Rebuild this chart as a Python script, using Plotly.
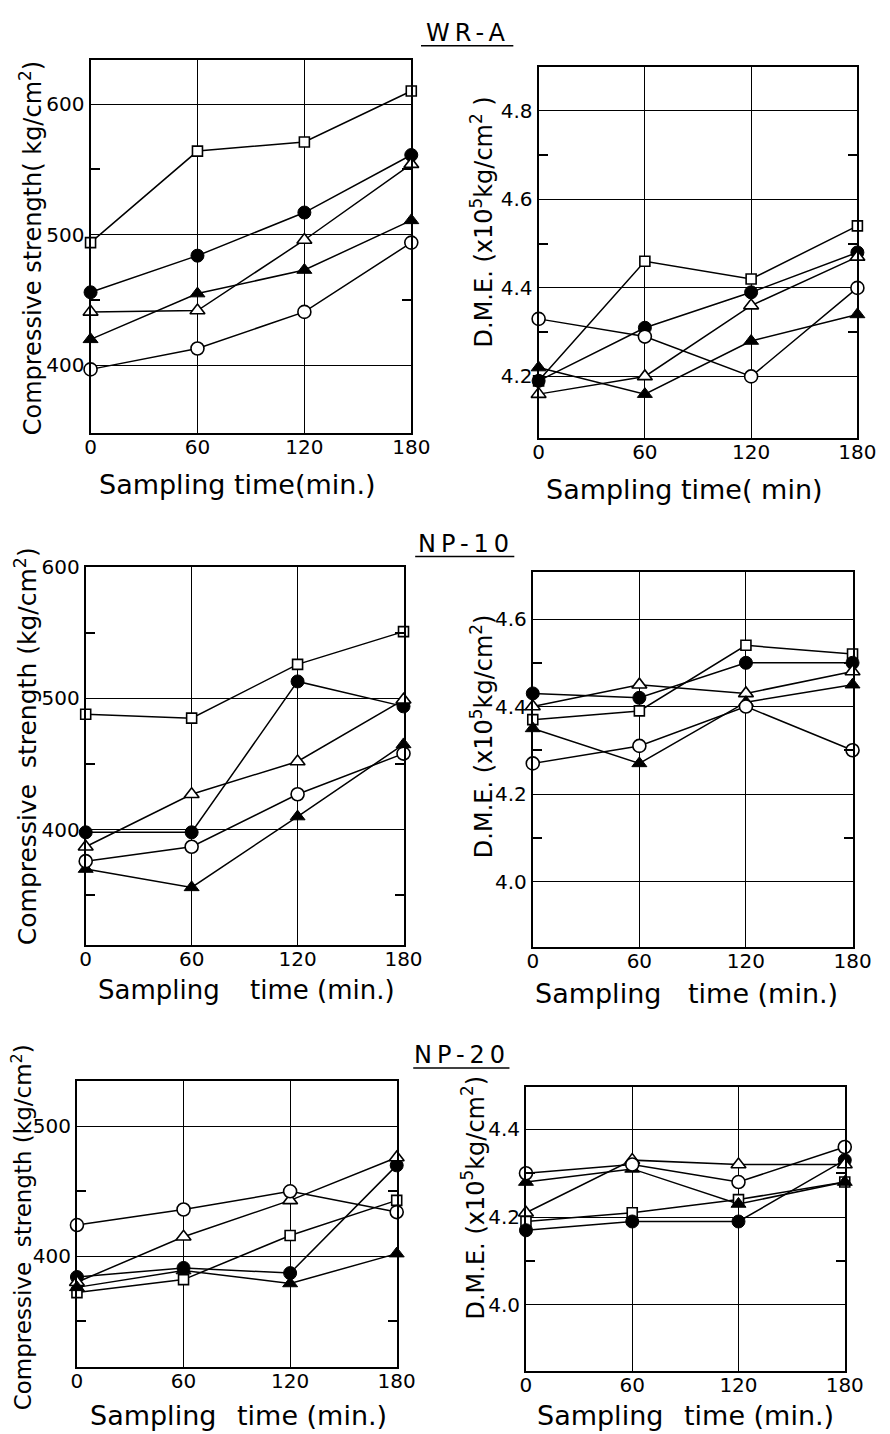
import plotly.graph_objects as go

W, H = 890, 1434

times = [0, 60, 120, 180]
series_names = ["open square", "filled circle", "open triangle", "filled triangle", "open circle"]

# WR-A
wra_cs = {
    "open square":     [494, 564, 571, 610],
    "filled circle":   [456, 484, 517, 561],
    "open triangle":   [441, 442, 496, 554],
    "filled triangle": [420, 455, 473, 511],
    "open circle":     [397, 413, 441, 494],
}
wra_dme = {
    "open square":     [4.19, 4.46, 4.42, 4.54],
    "filled circle":   [4.19, 4.31, 4.39, 4.48],
    "open triangle":   [4.16, 4.20, 4.36, 4.47],
    "filled triangle": [4.22, 4.16, 4.28, 4.34],
    "open circle":     [4.33, 4.29, 4.20, 4.40],
}
# NP-10
np10_cs = {
    "open square":     [488, 485, 526, 551],
    "filled circle":   [398, 398, 513, 494],
    "open triangle":   [387, 427, 452, 499],
    "filled triangle": [370, 356, 410, 465],
    "open circle":     [376, 387, 427, 458],
}
np10_dme = {
    "open square":     [4.37, 4.39, 4.54, 4.52],
    "filled circle":   [4.43, 4.42, 4.50, 4.50],
    "open triangle":   [4.40, 4.45, 4.43, 4.48],
    "filled triangle": [4.35, 4.27, 4.41, 4.45],
    "open circle":     [4.27, 4.31, 4.40, 4.30],
}
# NP-20
np20_cs = {
    "open square":     [372, 382, 416, 443],
    "filled circle":   [384, 391, 387, 470],
    "open triangle":   [380, 415, 443, 476],
    "filled triangle": [376, 389, 379, 402],
    "open circle":     [424, 436, 450, 434],
}
np20_dme = {
    "open square":     [4.19, 4.21, 4.24, 4.28],
    "filled circle":   [4.17, 4.19, 4.19, 4.33],
    "open triangle":   [4.21, 4.33, 4.32, 4.32],
    "filled triangle": [4.28, 4.31, 4.23, 4.28],
    "open circle":     [4.30, 4.32, 4.28, 4.36],
}

marker_styles = {
    "open square":     dict(symbol="square", size=10, color="white", line=dict(color="black", width=1.6)),
    "filled circle":   dict(symbol="circle", size=13, color="black", line=dict(color="black", width=1)),
    "open triangle":   dict(symbol="triangle-up", size=13, color="white", line=dict(color="black", width=1.6)),
    "filled triangle": dict(symbol="triangle-up", size=13, color="black", line=dict(color="black", width=1)),
    "open circle":     dict(symbol="circle", size=13, color="white", line=dict(color="black", width=1.6)),
}

FONT = "DejaVu Sans"
TICK = 20

def px(x):
    return x / W

def py(y):
    return 1 - y / H

panels = [
    dict(data=wra_cs, xd=(87, 417), yd=(48, 425), yr=(348, 634),
         ticks=[400, 500, 600], ticktext=["400", "500", "600"], minor=[450, 550]),
    dict(data=wra_dme, xd=(548, 876), yd=(55, 430), yr=(4.06, 4.90),
         ticks=[4.2, 4.4, 4.6, 4.8], ticktext=["4.2", "4.4", "4.6", "4.8"], minor=[4.3, 4.5, 4.7]),
    dict(data=np10_cs, xd=(82, 409), yd=(560, 941), yr=(312, 600),
         ticks=[400, 500, 600], ticktext=["400", "500", "600"], minor=[350, 450, 550]),
    dict(data=np10_dme, xd=(542, 871), yd=(565, 943), yr=(3.85, 4.707),
         ticks=[4.0, 4.2, 4.4, 4.6], ticktext=["4.0", "4.2", "4.4", "4.6"], minor=[4.1, 4.3, 4.5]),
    dict(data=np20_cs, xd=(73, 402), yd=(1078, 1366), yr=(315, 535),
         ticks=[400, 500], ticktext=["400", "500"], minor=[350, 450]),
    dict(data=np20_dme, xd=(535, 863), yd=(1084, 1370), yr=(3.85, 4.497),
         ticks=[4.0, 4.2, 4.4], ticktext=["4.0", "4.2", "4.4"], minor=[4.1, 4.3]),
]

fig = go.Figure()
layout = dict(width=W, height=H, margin=dict(l=0, r=0, t=0, b=0),
              paper_bgcolor="white", plot_bgcolor="white", showlegend=False,
              font=dict(family=FONT, color="black"))

for i, p in enumerate(panels, start=1):
    xa = "x" if i == 1 else f"x{i}"
    ya = "y" if i == 1 else f"y{i}"
    for name in series_names:
        fig.add_trace(go.Scatter(x=times, y=p["data"][name], mode="lines", xaxis=xa, yaxis=ya,
                                 line=dict(color="black", width=1.5), name=name, cliponaxis=False,
                                 hoverinfo="skip"))
    for name in series_names:
        fig.add_trace(go.Scatter(x=times, y=p["data"][name], mode="markers", xaxis=xa, yaxis=ya,
                                 marker=marker_styles[name], name=name, cliponaxis=False))
    xkey = "xaxis" if i == 1 else f"xaxis{i}"
    ykey = "yaxis" if i == 1 else f"yaxis{i}"
    layout[xkey] = dict(domain=[px(p["xd"][0]), px(p["xd"][1])], anchor=ya, range=[0, 180],
                        tickmode="array", tickvals=[0, 60, 120, 180], ticktext=["0", "60", "120", "180"],
                        showgrid=True, gridcolor="black", gridwidth=1, zeroline=False,
                        showline=True, linecolor="black", linewidth=2, mirror=True, ticks="",
                        ticklabelstandoff=-5,
                        tickfont=dict(size=TICK, family=FONT, color="black"), fixedrange=True)
    layout[ykey] = dict(domain=[py(p["yd"][1]), py(p["yd"][0])], anchor=xa, range=list(p["yr"]),
                        tickmode="array", tickvals=p["ticks"], ticktext=p["ticktext"],
                        showgrid=True, gridcolor="black", gridwidth=1, zeroline=False,
                        showline=True, linecolor="black", linewidth=2, mirror="ticks", ticks="",
                        minor=dict(tickmode="array", tickvals=p["minor"], ticks="inside", ticklen=9,
                                   tickcolor="black", tickwidth=1.5, showgrid=False),
                        tickfont=dict(size=TICK, family=FONT, color="black"), fixedrange=True)

annotations = []

def ann(text, x, y, size, angle=0):
    annotations.append(dict(text=text, x=px(x), y=py(y), xref="paper", yref="paper",
                            xanchor="center", yanchor="middle", showarrow=False, textangle=angle,
                            font=dict(size=size, family=FONT, color="black")))

NB = "\u00a0"
cs_title1 = "Compressive strength( kg/cm<sup>2</sup>)"
cs_title2 = "Compressive" + NB * 2 + "strength (kg/cm<sup>2</sup>)"
dme_title1 = "D.M.E. (x10<sup>5</sup>kg/cm<sup>2</sup> )"
dme_title2 = "D.M.E. (x10<sup>5</sup>kg/cm<sup>2</sup>)"

# group titles
ann('<span style="letter-spacing:5px">WR-A</span>', 475, 21, 24)
ann('<span style="letter-spacing:5px">NP-10</span>', 473, 536, 24)
ann('<span style="letter-spacing:5px">NP-20</span>', 469, 1052, 24)

# y titles
ann(cs_title1, 26, 238, 24, -90)
ann(dme_title1, 490, 212, 24, -90)
ann(cs_title2, 21, 740, 25, -90)
ann(dme_title2, 490, 730, 24, -90)
ann(cs_title2, 16, 1226, 23, -90)
ann(dme_title2, 481, 1195, 24, -90)

# x titles
ann("Sampling time(min.)", 238, 476, 27)
ann("Sampling time( min)", 698, 482, 27)
ann("Sampling", 157, 986, 26)
ann("time (min.)", 326, 986, 26)
ann("Sampling", 609, 990, 27)
ann("time (min.)", 779, 990, 27)
ann("Sampling", 151, 1415, 27)
ann("time (min.)", 315, 1415, 27)
ann("Sampling", 611, 1415, 27)
ann("time (min.)", 775, 1415, 27)

layout["annotations"] = annotations

layout["shapes"] = [
    dict(type="line", xref="paper", yref="paper", x0=px(427), x1=px(522), y0=py(34), y1=py(34),
         line=dict(color="black", width=1.5)),
    dict(type="line", xref="paper", yref="paper", x0=px(421), x1=px(523), y0=py(549), y1=py(549),
         line=dict(color="black", width=1.5)),
    dict(type="line", xref="paper", yref="paper", x0=px(419), x1=px(518), y0=py(1065), y1=py(1065),
         line=dict(color="black", width=1.5)),
]

fig.update_layout(**layout)
fig.write_html("out.html")
